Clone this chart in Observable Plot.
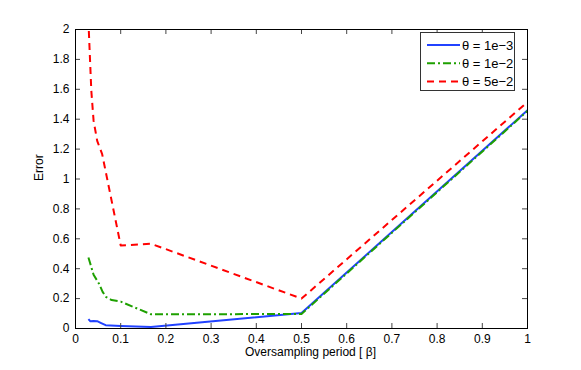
<!DOCTYPE html>
<html>
<head>
<meta charset="utf-8">
<script src="https://cdn.jsdelivr.net/npm/d3@7"></script>
<script src="https://cdn.jsdelivr.net/npm/@observablehq/plot@0.6"></script>
<style>
  body { margin: 0; background: #fff; font-family: "Liberation Sans", Arial, sans-serif; }
  #wrap { position: relative; width: 581px; height: 370px; }
  #legend { position: absolute; left: 420px; top: 32px; width: 95px; height: 59px;
            border: 1px solid #333; background: #fff; box-sizing: border-box; }
</style>
</head>
<body>
<div id="wrap"><div id="chart"></div><div id="legend"></div></div>
<script>
const xTicks = [0, 0.1, 0.2, 0.3, 0.4, 0.5, 0.6, 0.7, 0.8, 0.9, 1];
const yTicks = [0, 0.2, 0.4, 0.6, 0.8, 1, 1.2, 1.4, 1.6, 1.8, 2];

const seriesNames = ["θ = 1e−3", "θ = 1e−2", "θ = 5e−2"];
const seriesColors = ["#2142ff", "#1ea000", "#ff0000"];
const seriesDash = [null, "8,3,2,3", "7,5"];

const xBlue = [0.0286, 0.033, 0.04, 0.048, 0.0556, 0.0667, 0.1, 0.167, 0.5, 1];
const yBlue = [0.063, 0.048, 0.05, 0.049, 0.038, 0.022, 0.017, 0.010, 0.103, 1.46];

const xGreen = [0.0286, 0.04, 0.052, 0.06, 0.068, 0.08, 0.1, 0.167, 0.5, 1];
const yGreen = [0.475, 0.36, 0.30, 0.245, 0.21, 0.19, 0.18, 0.095, 0.097, 1.455];

const xRed = [0.0295, 0.035, 0.04, 0.048, 0.059, 0.1, 0.167, 0.5, 1];
const yRed = [1.99, 1.59, 1.39, 1.255, 1.166, 0.555, 0.567, 0.2, 1.515];

const toRows = (xs, ys) => xs.map((x, i) => ({x, y: ys[i]}));
const series = [toRows(xBlue, yBlue), toRows(xGreen, yGreen), toRows(xRed, yRed)];

const fmt = d => String(+d.toFixed(1));

const chart = Plot.plot({
  width: 581,
  height: 370,
  marginLeft: 75,
  marginRight: 54,
  marginTop: 29,
  marginBottom: 42,
  style: {fontFamily: "'Liberation Sans', Arial, sans-serif", fontSize: "12px", color: "#000", background: "#fff"},
  x: {domain: [0, 1]},
  y: {domain: [0, 2]},
  marks: [
    ...series.map((rows, i) => Plot.line(rows, {
      x: "x", y: "y", stroke: seriesColors[i], strokeWidth: 2,
      strokeDasharray: seriesDash[i] || undefined, strokeLinejoin: "round", strokeLinecap: "butt"
    })),
    Plot.tickX(xTicks, {x: d => d, insetTop: 294, stroke: "#444", strokeWidth: 1}),
    Plot.tickX(xTicks, {x: d => d, insetBottom: 294, stroke: "#444", strokeWidth: 1}),
    Plot.tickY(yTicks, {y: d => d, insetRight: 447, stroke: "#444", strokeWidth: 1}),
    Plot.tickY(yTicks, {y: d => d, insetLeft: 447, stroke: "#444", strokeWidth: 1}),
    Plot.frame({stroke: "#000", strokeWidth: 1}),
    Plot.axisX(xTicks, {tickSize: 0, tickPadding: 6, label: null, tickFormat: fmt, fontSize: 12}),
    Plot.axisY(yTicks, {tickSize: 0, tickPadding: 6, label: null, tickFormat: fmt, fontSize: 12}),
    Plot.text(["Oversampling period [ β]"], {frameAnchor: "bottom", dy: 27, dx: 9, fontSize: 12}),
    Plot.text(["Error"], {frameAnchor: "left", dx: -36, dy: 2, rotate: -90, fontSize: 12})
  ]
});
document.getElementById("chart").appendChild(chart);

// legend
const lg = d3.select("#legend").append("svg").attr("width", 93).attr("height", 57);
seriesNames.forEach((name, i) => {
  const y = 12 + i * 18.3;
  const ln = lg.append("line").attr("x1", 6).attr("x2", 39).attr("y1", y).attr("y2", y)
    .attr("stroke", seriesColors[i]).attr("stroke-width", 2);
  if (seriesDash[i]) ln.attr("stroke-dasharray", seriesDash[i]);
  lg.append("text").attr("x", 41).attr("y", y).attr("dy", "0.36em")
    .attr("font-size", 13).attr("font-family", "'Liberation Sans', Arial, sans-serif")
    .text(name);
});
</script>
</body>
</html>
